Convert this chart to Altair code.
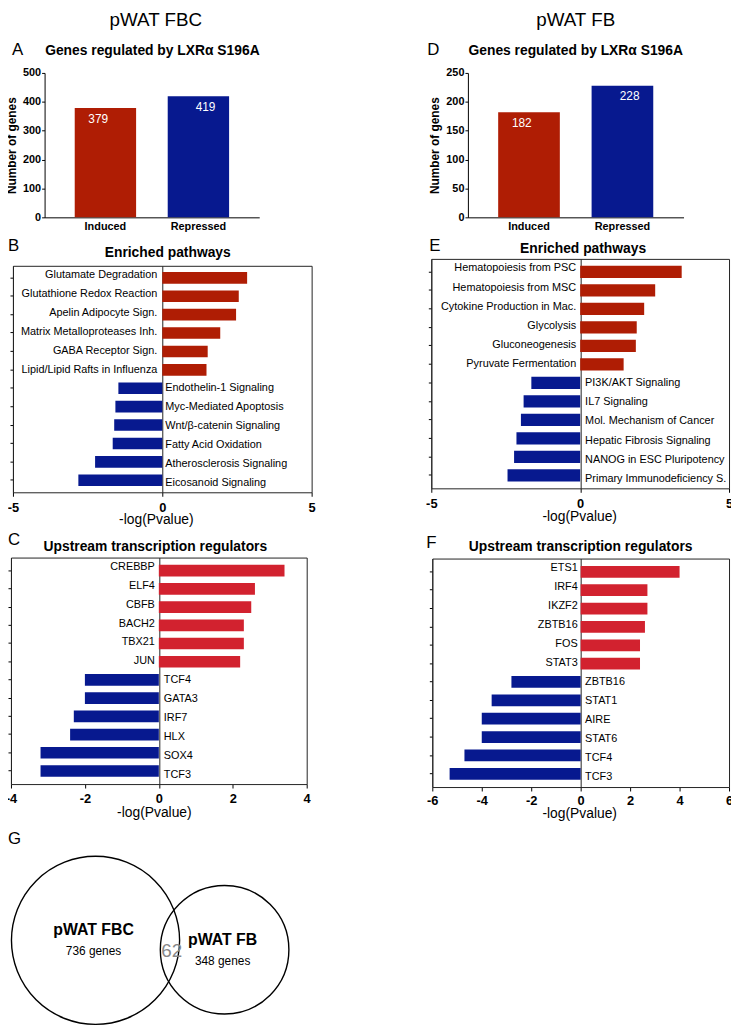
import altair as alt
import pandas as pd

W, H = 731, 1023
FONT = "Liberation Sans"
RED_DARK = "#AF1D04"
RED = "#D2222F"
BLUE = "#07198F"
FRAME = "#222222"

# ---------------- data ----------------
reg_cats = ["Induced", "Repressed"]
fbc_counts = [379, 419]
fb_counts = [182, 228]

fbc_path_terms = ["Glutamate Degradation", "Glutathione Redox Reaction", "Apelin Adipocyte Sign.",
                  "Matrix Metalloproteases Inh.", "GABA Receptor Sign.", "Lipid/Lipid Rafts in Influenza",
                  "Endothelin-1 Signaling", "Myc-Mediated Apoptosis", "Wnt/β-catenin Signaling",
                  "Fatty Acid Oxidation", "Atherosclerosis Signaling", "Eicosanoid Signaling"]
fbc_path_vals = [2.84, 2.56, 2.47, 1.94, 1.52, 1.48, -1.47, -1.57, -1.61, -1.66, -2.25, -2.81]

fb_path_terms = ["Hematopoiesis from PSC", "Hematopoiesis from MSC", "Cytokine Production in Mac.",
                 "Glycolysis", "Gluconeogenesis", "Pyruvate Fermentation", "PI3K/AKT Signaling",
                 "IL7 Signaling", "Mol. Mechanism of Cancer", "Hepatic Fibrosis Signaling",
                 "NANOG in ESC Pluripotency", "Primary Immunodeficiency S."]
fb_path_vals = [3.41, 2.52, 2.15, 1.90, 1.87, 1.46, -1.64, -1.90, -1.99, -2.14, -2.22, -2.44]

fbc_tf_terms = ["CREBBP", "ELF4", "CBFB", "BACH2", "TBX21", "JUN",
                "TCF4", "GATA3", "IRF7", "HLX", "SOX4", "TCF3"]
fbc_tf_vals = [3.4, 2.6, 2.5, 2.3, 2.3, 2.2, -2.0, -2.0, -2.3, -2.4, -3.2, -3.2]

fb_tf_terms = ["ETS1", "IRF4", "IKZF2", "ZBTB16", "FOS", "STAT3",
               "ZBTB16", "STAT1", "AIRE", "STAT6", "TCF4", "TCF3"]
fb_tf_vals = [4.0, 2.7, 2.7, 2.6, 2.4, 2.4, -2.8, -3.6, -4.0, -4.0, -4.7, -5.3]

venn_sets = ["pWAT FBC", "pWAT FB"]
venn_genes = [736, 348]
venn_overlap = 62


def count_panel(cats, counts, ymax, ystep, xr, yr):
    df = pd.DataFrame({"cat": cats, "n": counts})
    xs = alt.Scale(domain=cats, range=xr, paddingInner=0.34, paddingOuter=0.324)
    ys = alt.Scale(domain=[0, ymax], range=yr, nice=False, zero=True)
    base = alt.Chart(df)
    bars = base.mark_bar().encode(
        x=alt.X("cat:N", scale=xs, sort=None,
                axis=alt.Axis(orient="bottom", offset=yr[0] - H, ticks=False, tickSize=0,
                              labelPadding=3, labelFontSize=11, labelFontWeight="bold",
                              labelAngle=0, title=None, domain=True, grid=False)),
        y=alt.Y("n:Q", scale=ys,
                axis=alt.Axis(orient="left", offset=-xr[0], values=list(range(0, ymax + 1, ystep)),
                              tickSize=3, labelPadding=1, labelFontSize=11, labelFontWeight="bold",
                              title="Number of genes", titleFontSize=12, titleFontWeight="bold",
                              titlePadding=4, grid=False, labelFlush=False)),
        color=alt.Color("cat:N", scale=alt.Scale(domain=cats, range=[RED_DARK, BLUE]), legend=None),
    )
    vals = base.mark_text(baseline="top", dy=6, fontSize=12, color="#ffffff", font=FONT).encode(
        x=alt.X("cat:N", scale=xs, sort=None, axis=None),
        y=alt.Y("n:Q", scale=ys, axis=None),
        text="n:Q",
    )
    return [bars, vals]


def bar_panel(terms, vals, dom, tick_vals, xr, yr, p_in, p_out, red, dx_pos, dx_neg,
              title_x, title_y, lab_pad):
    n = len(terms)
    df = pd.DataFrame({"row": list(range(n)), "term": terms, "val": vals,
                       "dir": ["up" if v > 0 else "down" for v in vals], "zero": [0] * n})
    xs = alt.Scale(domain=dom, range=xr, nice=False, zero=False)
    ys = alt.Scale(domain=list(range(n)), range=yr, paddingInner=p_in, paddingOuter=p_out)
    base = alt.Chart(df)
    y_plain = alt.Y("row:O", scale=ys, axis=None)
    frame = base.mark_bar(opacity=0).encode(
        x=alt.X("val:Q", scale=xs,
                axis=alt.Axis(orient="top", offset=-yr[0], labels=False, ticks=False, tickSize=0,
                              domain=True, domainColor=FRAME, grid=True,
                              values=[dom[0], 0, dom[1]], gridColor=FRAME, gridWidth=1,
                              gridOpacity=1, title=None)),
        x2="zero:Q",
        y=y_plain,
    )
    bars = base.mark_bar().encode(
        x=alt.X("val:Q", scale=xs,
                axis=alt.Axis(orient="bottom", offset=yr[1] - H, values=tick_vals,
                              labelExpr="'' + datum.value", tickSize=4, labelPadding=lab_pad,
                              labelFontSize=13, labelFontWeight="bold", labelFlush=False,
                              title="-log(Pvalue)", titleFontSize=14, titleFontWeight="normal",
                              titleX=title_x, titleY=title_y, titleBaseline="top",
                              grid=False, domainColor=FRAME)),
        x2="zero:Q",
        y=alt.Y("row:O", scale=ys,
                axis=alt.Axis(orient="left", offset=-xr[0], labels=False, ticks=True, tickSize=3,
                              title=None, grid=False, domain=True, domainColor=FRAME)),
        color=alt.Color("dir:N", scale=alt.Scale(domain=["up", "down"], range=[red, BLUE]),
                        legend=None),
    )
    pos = base.transform_filter("datum.val > 0").mark_text(
        align="right", baseline="middle", dx=dx_pos, fontSize=11, font=FONT, color="#000000"
    ).encode(x=alt.X("zero:Q", scale=xs, axis=None), y=y_plain, text="term:N")
    neg = base.transform_filter("datum.val < 0").mark_text(
        align="left", baseline="middle", dx=dx_neg, fontSize=11, font=FONT, color="#000000"
    ).encode(x=alt.X("zero:Q", scale=xs, axis=None), y=y_plain, text="term:N")
    return [frame, bars, pos, neg]


def note(text, x, y, size, weight="normal", align="center", color="#000000"):
    return alt.Chart(pd.DataFrame({"t": [text]})).mark_text(
        align=align, baseline="alphabetic", fontSize=size, fontWeight=weight, font=FONT, color=color
    ).encode(x=alt.value(x), y=alt.value(y), text="t:N")


layers = []
# A and D
layers += count_panel(reg_cats, fbc_counts, 500, 100, [37, 254], [206, 60])
layers += count_panel(reg_cats, fb_counts, 250, 50, [465, 683], [206, 60])
# B and E
layers += bar_panel(fbc_path_terms, fbc_path_vals, [-5, 5], [-5, 0, 5], [5, 307], [255, 484],
                    0.37, 0.34, RED_DARK, -5, 3, 149.5, 21, 5)
layers += bar_panel(fb_path_terms, fb_path_vals, [-5, 5], [-5, 0, 5], [428, 729], [248, 480],
                    0.34, 0.37, RED_DARK, -4, 5, 577.5, 22, 5)
# C and F
layers += bar_panel(fbc_tf_terms, fbc_tf_vals, [-4, 4], [-4, -2, 0, 2, 4], [3, 302], [550, 779],
                    0.36, 0.40, RED, -4, 5, 147.5, 22, 5)
layers += bar_panel(fb_tf_terms, fb_tf_vals, [-6, 6], [-6, -4, -2, 0, 2, 4, 6], [429, 729],
                    [551, 782], 0.36, 0.40, RED, -3, 4.5, 577.5, 20, 4)

# Venn diagram (G)
dfV = pd.DataFrame({"set": venn_sets, "genes": venn_genes})
xsV = alt.Scale(type="point", domain=venn_sets, range=[88.5, 219], padding=0)
ysV = alt.Scale(type="point", domain=venn_sets, range=[937, 946.5], padding=0)
baseV = alt.Chart(dfV)
layers.append(baseV.mark_point(shape="circle", filled=False, color="#000000", strokeWidth=1.4,
                               opacity=1).encode(
    x=alt.X("set:N", scale=xsV, axis=None),
    y=alt.Y("set:N", scale=ysV, axis=None),
    size=alt.Size("genes:Q", scale=alt.Scale(domain=[348, 736], range=[130 ** 2, 170 ** 2], zero=False),
                  legend=None),
))
layers.append(baseV.mark_text(baseline="alphabetic", dy=-5, dx=-2, fontSize=16, fontWeight="bold",
                              font=FONT, color="#000000").encode(
    x=alt.X("set:N", scale=xsV, axis=None),
    y=alt.Y("set:N", scale=ysV, axis=None),
    text="set:N",
))
layers.append(baseV.transform_calculate(lab="datum.genes + ' genes'").mark_text(
    baseline="alphabetic", dy=15, dx=-2, fontSize=12, font=FONT, color="#000000").encode(
    x=alt.X("set:N", scale=xsV, axis=None),
    y=alt.Y("set:N", scale=ysV, axis=None),
    text="lab:N",
))
layers.append(note(str(venn_overlap), 165.5, 953.5, 19, color="#888888"))

# headings, subtitles, panel letters
layers += [
    note("pWAT FBC", 149.5, 13, 19),
    note("pWAT FB", 574, 13, 19),
    note("Genes regulated by LXRα S196A", 146, 42, 14, "bold"),
    note("Genes regulated by LXRα S196A", 574, 42, 14, "bold"),
    note("Enriched pathways", 161.5, 246, 14, "bold"),
    note("Enriched pathways", 581.5, 242.5, 14, "bold"),
    note("Upstream transcription regulators", 149, 543.5, 14, "bold"),
    note("Upstream transcription regulators", 579, 543.5, 14, "bold"),
    note("A", 4, 42, 17, align="left"),
    note("D", 424, 42, 17, align="left"),
    note("B", 0, 240, 17, align="left"),
    note("E", 426, 240, 17, align="left"),
    note("C", 0, 537, 17, align="left"),
    note("F", 423, 540, 17, align="left"),
    note("G", 0, 840, 17, align="left"),
]

chart = alt.layer(*layers).properties(
    width=W, height=H, autosize=alt.AutoSizeParams(type="none"), padding=0
).resolve_scale(
    x="independent", y="independent", color="independent", size="independent"
).resolve_axis(
    x="independent", y="independent"
).configure_view(stroke=None).configure_axis(
    domainColor="#000000", tickColor="#000000", labelColor="#000000", titleColor="#000000",
    labelFont=FONT, titleFont=FONT, domainWidth=1, tickWidth=1, labelFontWeight="bold"
).configure_text(font=FONT)

chart.save("out.html", embed_options={"renderer": "svg", "actions": False})
